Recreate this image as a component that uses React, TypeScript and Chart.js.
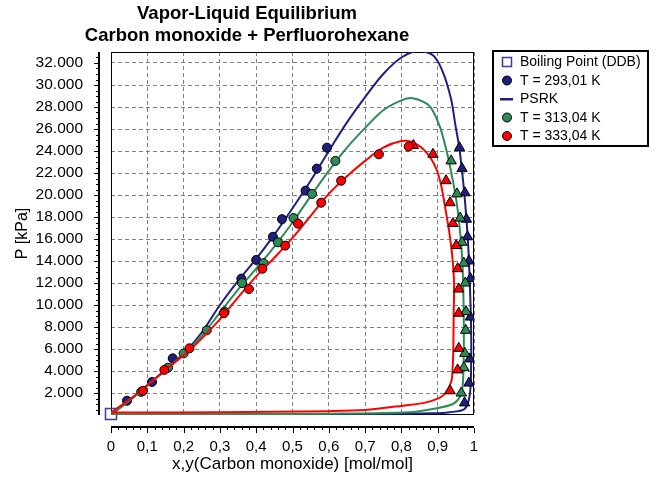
import React, { useEffect, useRef } from 'react';
import { Chart, registerables } from 'chart.js';

Chart.register(...registerables);

const FONT = "'Liberation Sans', Arial, sans-serif";

const titleLines = ['Vapor-Liquid Equilibrium', 'Carbon monoxide + Perfluorohexane'];
const xAxisTitle = 'x,y(Carbon monoxide) [mol/mol]';
const yAxisTitle = 'P [kPa]';
const legendLabels = ['Boiling Point (DDB)', 'T = 293,01 K', 'PSRK', 'T = 313,04 K', 'T = 333,04 K'];

const xTickValues = [0, 0.1, 0.2, 0.3, 0.4, 0.5, 0.6, 0.7, 0.8, 0.9, 1];
const yTickValues = [2000, 4000, 6000, 8000, 10000, 12000, 14000, 16000, 18000, 20000, 22000, 24000, 26000, 28000, 30000, 32000];
const xMin = 0;
const xMax = 1;
const yMin = 0;
const yMax = 33000;

const NAVY = '#1f1f80';
const GREEN = '#2e8b57';
const RED = '#ff0000';

// Boiling point (DDB)
const boilX = [0];
const boilP = [100];

// T = 293,01 K  experimental liquid (x) and vapour (y)
const exp293xX = [0.044, 0.113, 0.17, 0.359, 0.4, 0.446, 0.471, 0.536, 0.567, 0.595];
const exp293xP = [1300, 3000, 5150, 12400, 14100, 16200, 17800, 20400, 22400, 24300];
const exp293yX = [0.974, 0.986, 0.988, 0.99, 0.99, 0.986, 0.982, 0.979, 0.975, 0.967, 0.96];
const exp293yP = [1100, 2900, 5100, 8900, 12400, 14000, 16200, 17800, 20200, 22400, 24300];

// T = 313,04 K
const exp313xX = [0.083, 0.157, 0.2, 0.264, 0.313, 0.361, 0.42, 0.46, 0.503, 0.554, 0.618];
const exp313xP = [2100, 4300, 5600, 7700, 9400, 12000, 13800, 15700, 17900, 20100, 23100];
const exp313yX = [0.965, 0.972, 0.975, 0.977, 0.978, 0.976, 0.972, 0.967, 0.962, 0.953, 0.937];
const exp313yP = [2000, 4300, 5600, 7700, 9400, 12000, 13800, 15700, 17900, 20100, 23100];

// T = 333,04 K
const exp333xX = [0.088, 0.147, 0.216, 0.311, 0.38, 0.417, 0.48, 0.515, 0.579, 0.634, 0.738, 0.82];
const exp333xP = [2200, 4100, 6060, 9250, 11450, 13300, 15400, 17400, 19300, 21300, 23700, 24400];
const exp333yX = [0.934, 0.955, 0.958, 0.958, 0.958, 0.955, 0.951, 0.942, 0.934, 0.923, 0.887, 0.833];
const exp333yP = [2200, 4100, 6060, 9250, 11450, 13300, 15400, 17400, 19300, 21300, 23700, 24500];

// PSRK envelopes (bubble + dew curve, one loop each)
const psrk293X = [0, 0.05, 0.1, 0.15, 0.2, 0.25, 0.3, 0.35, 0.4, 0.45, 0.5, 0.55, 0.6, 0.65, 0.7, 0.75, 0.8, 0.847, 0.887, 0.914, 0.937, 0.949, 0.96, 0.974, 0.983, 0.988, 0.992, 0.992, 0.988, 0.974, 0.932, 0.886, 0.7, 0.4, 0];
const psrk293P = [30, 1300, 2700, 4100, 5600, 7500, 10000, 12200, 14200, 16400, 18800, 21300, 24000, 26600, 28900, 31000, 32500, 33100, 32700, 31200, 28700, 26300, 24200, 19900, 16000, 12400, 8000, 4200, 1750, 550, 250, 150, 80, 50, 30];

const psrk313X = [0, 0.05, 0.1, 0.15, 0.2, 0.25, 0.3, 0.35, 0.4, 0.45, 0.5, 0.55, 0.6, 0.65, 0.7, 0.75, 0.8, 0.831, 0.877, 0.905, 0.923, 0.937, 0.951, 0.96, 0.967, 0.97, 0.972, 0.971, 0.965, 0.942, 0.886, 0.822, 0.6, 0.3, 0];
const psrk313P = [50, 1300, 2700, 4100, 5500, 7200, 9300, 11400, 13300, 15300, 17500, 19900, 22200, 24300, 26100, 27700, 28600, 28800, 28100, 26300, 24200, 22100, 19600, 17200, 14500, 12000, 8000, 4200, 1900, 1000, 550, 250, 120, 70, 50];

const psrk333X = [0, 0.075, 0.15, 0.22, 0.3, 0.35, 0.4, 0.45, 0.5, 0.55, 0.6, 0.65, 0.7, 0.75, 0.8, 0.831, 0.868, 0.896, 0.91, 0.923, 0.932, 0.94, 0.945, 0.944, 0.943, 0.941, 0.937, 0.914, 0.868, 0.804, 0.7, 0.6, 0.3, 0];
const psrk333P = [220, 2000, 4100, 6000, 8700, 10700, 12600, 14300, 16100, 18100, 20100, 21700, 23100, 24300, 24900, 24800, 23900, 22400, 20800, 18400, 16600, 14500, 12000, 9000, 6000, 4200, 3000, 1750, 1150, 850, 450, 350, 250, 220];

const pts = (xs: number[], ps: number[]) => xs.map((x, i) => ({ x, y: ps[i] }));

const markerSet = (label: string, xs: number[], ps: number[], color: string, style: string, r: number, order: number) => ({
  label,
  data: pts(xs, ps),
  showLine: false,
  pointStyle: style,
  pointRadius: r,
  pointBackgroundColor: color,
  pointBorderColor: '#000',
  pointBorderWidth: 1,
  order,
});

const lineSet = (label: string, xs: number[], ps: number[], color: string, order: number) => ({
  label,
  data: pts(xs, ps),
  showLine: true,
  borderColor: color,
  borderWidth: 2,
  pointRadius: 0,
  tension: 0.3,
  fill: false,
  order,
});

const decorPlugin = {
  id: 'decor',
  beforeDatasetsDraw(chart: any) {
    const { ctx, chartArea: a } = chart;
    ctx.save();
    ctx.strokeStyle = '#000';
    ctx.lineWidth = 1;
    ctx.strokeRect(a.left + 0.5, a.top + 0.5, a.right - a.left - 1, a.bottom - a.top - 1);
    ctx.restore();
  },
  afterDraw(chart: any) {
    const { ctx, chartArea: a } = chart;
    const xs = chart.scales.x;
    const ys = chart.scales.y;
    ctx.save();
    ctx.fillStyle = '#000';
    // offset y axis
    ctx.fillRect(98, a.top, 2, a.bottom - a.top);
    for (let v = 500; v < yMax; v += 500) {
      const py = Math.round(ys.getPixelForValue(v));
      if (v % 2000 === 0) ctx.fillRect(94, py, 4, 1);
      else ctx.fillRect(96, py, 2, 1);
    }
    // offset x axis
    ctx.fillRect(a.left, 426, a.right - a.left, 2);
    for (let i = 0; i <= 50; i++) {
      const v = i / 50;
      const px = Math.round(xs.getPixelForValue(v));
      if (i % 5 === 0) ctx.fillRect(px, 428, 1, 5);
      else ctx.fillRect(px, 428, 1, 2);
    }
    // legend
    const lx = 492, ly = 50, lw = 157, lh = 97;
    ctx.fillStyle = '#fff';
    ctx.fillRect(lx, ly, lw, lh);
    ctx.strokeStyle = '#000';
    ctx.lineWidth = 2;
    ctx.strokeRect(lx + 1, ly + 1, lw - 2, lh - 2);
    const colors = [NAVY, NAVY, NAVY, GREEN, RED];
    ctx.font = `14px ${FONT}`;
    ctx.textBaseline = 'middle';
    ctx.textAlign = 'left';
    legendLabels.forEach((lab, i) => {
      const cy = 62 + i * 18.5;
      const cx = 507;
      if (i === 0) {
        ctx.strokeStyle = '#3a3aa0';
        ctx.lineWidth = 1.5;
        ctx.strokeRect(cx - 4.5, cy - 4.5, 9, 9);
      } else if (i === 2) {
        ctx.fillStyle = NAVY;
        ctx.fillRect(cx - 7, cy - 1, 13, 2.5);
      } else {
        ctx.beginPath();
        ctx.arc(cx, cy, 4.5, 0, Math.PI * 2);
        ctx.fillStyle = colors[i];
        ctx.fill();
        ctx.strokeStyle = '#000';
        ctx.lineWidth = 1;
        ctx.stroke();
      }
      ctx.fillStyle = '#000';
      ctx.fillText(lab, 520, cy + 0.5);
    });
    ctx.restore();
  },
};

export default function App() {
  const ref = useRef<HTMLCanvasElement | null>(null);

  useEffect(() => {
    document.body.style.margin = '0';
    const canvas = ref.current;
    if (!canvas) return;
    const chart = new Chart(canvas, {
      type: 'scatter',
      data: {
        datasets: [
          markerSet('T = 333,04 K', exp333xX, exp333xP, RED, 'circle', 4.5, 0),
          markerSet('T = 333,04 K (y)', exp333yX, exp333yP, RED, 'triangle', 6, 0),
          lineSet('PSRK 333', psrk333X, psrk333P, RED, 1),
          markerSet('T = 313,04 K', exp313xX, exp313xP, GREEN, 'circle', 4.5, 2),
          markerSet('T = 313,04 K (y)', exp313yX, exp313yP, GREEN, 'triangle', 6, 2),
          lineSet('PSRK 313', psrk313X, psrk313P, GREEN, 3),
          markerSet('T = 293,01 K', exp293xX, exp293xP, NAVY, 'circle', 4.5, 4),
          markerSet('T = 293,01 K (y)', exp293yX, exp293yP, NAVY, 'triangle', 6, 4),
          lineSet('PSRK', psrk293X, psrk293P, NAVY, 5),
          {
            label: 'Boiling Point (DDB)',
            data: pts(boilX, boilP),
            showLine: false,
            pointStyle: 'rect',
            pointRadius: 7.8,
            pointBackgroundColor: 'rgba(255,255,255,0)',
            pointBorderColor: '#3a3aa0',
            pointBorderWidth: 1.5,
            order: 6,
            clip: false,
          } as any,
        ],
      },
      options: {
        animation: false,
        responsive: false,
        events: [],
        layout: { padding: { left: 20, right: 186, top: 0, bottom: 0 } },
        plugins: {
          legend: { display: false },
          tooltip: { enabled: false },
          title: {
            display: true,
            text: titleLines,
            color: '#000',
            font: { family: FONT, size: 18.5, weight: 'bold', lineHeight: 1.2 },
            padding: { top: 2.9, bottom: 4.7 },
          },
        },
        scales: {
          x: {
            type: 'linear',
            position: 'bottom',
            min: xMin,
            max: xMax,
            afterBuildTicks: (s: any) => {
              s.ticks = xTickValues.map((v) => ({ value: v }));
            },
            afterFit: (s: any) => {
              s.height = 64;
            },
            ticks: {
              autoSkip: false,
              maxRotation: 0,
              padding: 23,
              color: '#000',
              font: { family: FONT, size: 15 },
              callback: (v: any) => String(v).replace('.', ','),
            },
            grid: { color: '#808080', lineWidth: 1, drawTicks: false },
            border: { display: false, dash: [4, 3] },
            title: {
              display: true,
              text: xAxisTitle,
              color: '#000',
              font: { family: FONT, size: 17 },
              padding: { top: 0, bottom: 4.8 },
            },
          },
          y: {
            type: 'linear',
            position: 'left',
            min: yMin,
            max: yMax,
            afterBuildTicks: (s: any) => {
              s.ticks = yTickValues.map((v) => ({ value: v }));
            },
            afterFit: (s: any) => {
              s.width = 91;
            },
            ticks: {
              autoSkip: false,
              padding: 28,
              color: '#000',
              font: { family: FONT, size: 15.5 },
              callback: (v: any) => (Number(v) / 1000).toFixed(3),
            },
            grid: { color: '#808080', lineWidth: 1, drawTicks: false },
            border: { display: false, dash: [4, 3] },
            title: {
              display: true,
              text: yAxisTitle,
              color: '#000',
              font: { family: FONT, size: 16 },
              padding: { top: -7, bottom: 0 },
            },
          },
        },
      } as any,
      plugins: [decorPlugin],
    });
    return () => chart.destroy();
  }, []);

  return (
    <div style={{ width: 660, height: 479, position: 'relative' }}>
      <canvas ref={ref} width={660} height={479} style={{ display: 'block' }} />
    </div>
  );
}
